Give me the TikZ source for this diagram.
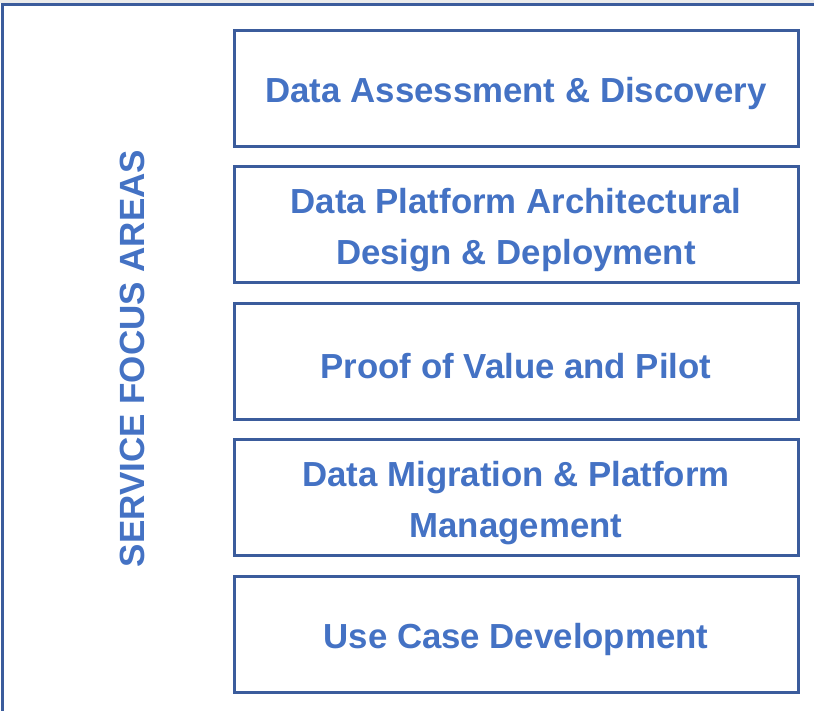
\documentclass[tikz,border=0pt]{standalone}
\usepackage{fontspec}
\setmainfont{Liberation Sans}
\definecolor{txtblue}{RGB}{68,114,196}
\definecolor{lineblue}{RGB}{59,92,156}
\definecolor{strip}{RGB}{235,235,235}
\begin{document}
\begin{tikzpicture}[x=1pt,y=1pt,
  areabox/.style={draw=lineblue,line width=3pt,minimum width=564pt,minimum height=116pt,inner sep=0pt},
  areatext/.style={text=txtblue,font=\fontsize{34.8}{51}\selectfont\bfseries,align=center,inner sep=0pt},
  sidelabel/.style={text=txtblue,font=\fontsize{35}{40}\selectfont\bfseries,rotate=90,inner sep=0pt}]
\useasboundingbox (0,0) rectangle (814,-711);
\fill[strip] (0,0) rectangle (814,-3);
\begin{scope}
\clip (0,0) rectangle (814,-711);
\draw[lineblue,line width=3pt] (2.5,-5) rectangle (840,-740);
\end{scope}
\node[areabox] (b1) at (516,-89) {};
\node[areabox] (b2) at (516,-225) {};
\node[areabox] (b3) at (516,-361.5) {};
\node[areabox] (b4) at (516,-497.5) {};
\node[areabox] (b5) at (516,-634) {};
\node[areatext] (t1) at ([yshift=-5pt]b1.center) {Data Assessment \& Discovery};
\node[areatext] (t2) at ([yshift=-5.5pt]b2.center) {Data Platform Architectural\\Design \& Deployment};
\node[areatext] (t3) at ([yshift=-4.5pt]b3.center) {Proof of Value and Pilot};
\node[areatext] (t4) at ([yshift=-5.5pt]b4.center) {Data Migration \& Platform\\Management};
\node[areatext] (t5) at ([yshift=-5.5pt]b5.center) {Use Case Development};
\node[sidelabel] (side) at (132.5,-358.5) {SERVICE FOCUS AREAS};
\end{tikzpicture}
\end{document}
